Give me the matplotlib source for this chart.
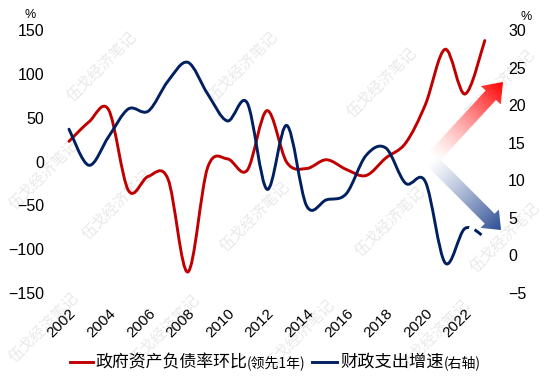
import numpy as np
import matplotlib
matplotlib.use("Agg")
import matplotlib.pyplot as plt
from matplotlib.path import Path
from matplotlib.patches import PathPatch, Polygon
from matplotlib.lines import Line2D

plt.rcParams['font.family'] = ['Liberation Sans', 'Noto Sans CJK SC', 'DejaVu Sans']

years = list(range(2002, 2024))
# 政府资产负债率环比 (领先1年), left axis
debt_ratio_qoq = [23, 45, 59, -33, -17, -20, -126, -7, 3, -10, 58,
                  -1, -8, 2, -9, -16, 4, 21, 65, 128, 77, 138]
# 财政支出增速, right axis (last segment dashed)
spending_growth = [16.8, 12.0, 15.8, 19.5, 19.2, 23.2, 25.7, 21.5, 17.9, 20.3, 8.8,
                   17.3, 6.6, 7.4, 8.2, 13.3, 14.3, 9.6, 9.8, -1.0, 3.6, 2.4]
xtick_years = list(range(2002, 2023, 2))
left_ticks = [-150, -100, -50, 0, 50, 100, 150]
right_ticks = [-5, 0, 5, 10, 15, 20, 25, 30]

RED = '#C00000'
NAVY = '#002060'
W, H = 550, 384
CJK = ['Noto Sans CJK SC', 'DejaVu Sans']


def smooth_path(xs, ys, i0, i1):
    # excel-like smoothed line: catmull-rom segments as cubic bezier
    pts = np.column_stack([xs, ys]).astype(float)
    n = len(pts)
    verts = [pts[i0]]
    codes = [Path.MOVETO]
    for i in range(i0, i1):
        p0 = pts[max(i - 1, 0)]
        p1 = pts[i]
        p2 = pts[i + 1]
        p3 = pts[min(i + 2, n - 1)]
        verts += [p1 + (p2 - p0) / 6, p2 - (p3 - p1) / 6, p2]
        codes += [Path.CURVE4] * 3
    return Path(verts, codes)


def arrow_poly(tail, tip, shaft_w, head_w, head_len):
    t = np.array(tail, float)
    h = np.array(tip, float)
    u = (h - t) / np.linalg.norm(h - t)
    nrm = np.array([-u[1], u[0]])
    b = h - u * head_len
    return [t + nrm * shaft_w / 2, b + nrm * shaft_w / 2, b + nrm * head_w / 2, h,
            b - nrm * head_w / 2, b - nrm * shaft_w / 2, t - nrm * shaft_w / 2]


def gradient_arrow(axo, tail, tip, color, gamma, shaft_w, head_w, head_len):
    X, Y = np.meshgrid(np.arange(W) + 0.5, np.arange(H) + 0.5)
    d = np.array(tip, float) - np.array(tail, float)
    s = ((X - tail[0]) * d[0] + (Y - tail[1]) * d[1]) / (d @ d)
    s = np.clip(s, 0, 1) ** gamma
    rgb = (1 - s)[..., None] * np.ones(3) + s[..., None] * np.array(color)
    img = np.dstack([rgb, np.ones_like(s)])
    patch = Polygon(arrow_poly(tail, tip, shaft_w, head_w, head_len), closed=True,
                    transform=axo.transData, facecolor='none', edgecolor='none')
    axo.add_patch(patch)
    im = axo.imshow(img, extent=(0, W, H, 0), interpolation='bilinear', aspect='auto')
    im.set_clip_path(patch)


fig = plt.figure(figsize=(W / 100, H / 100), dpi=100)

# watermark layer
bg = fig.add_axes([0, 0, 1, 1], zorder=-1)
bg.set_xlim(0, W)
bg.set_ylim(H, 0)
bg.axis('off')
marks = [(102, 67), (243, 67), (382, 83), (500, 85), (44, 175),
         (117, 205), (255, 217), (390, 222), (505, 238),
         (44, 328), (165, 330), (300, 335), (435, 335)]
for mx, my in marks:
    bg.text(mx, my, '伍戈经济笔记', rotation=45, ha='center', va='center',
            fontsize=11, color='#E9E9E9', family=CJK)

ax = fig.add_axes([55 / W, (H - 293) / H, 440 / W, 263 / H])
ax.set_facecolor('none')
ax.set_xlim(2002 - 14 / 19.8, 2002 + 426 / 19.8)
ax.set_ylim(-150, 150)
ax2 = ax.twinx()
ax2.set_ylim(-5, 30)

for a in (ax, ax2):
    for sp in a.spines.values():
        sp.set_visible(False)

ax.add_patch(PathPatch(smooth_path(years, debt_ratio_qoq, 0, len(years) - 1),
                       fill=False, edgecolor=RED, lw=2.1, capstyle='round'))
ax2.add_patch(PathPatch(smooth_path(years, spending_growth, 0, len(years) - 2),
                        fill=False, edgecolor=NAVY, lw=2.1, capstyle='round'))
ax2.add_patch(PathPatch(smooth_path(years, spending_growth, len(years) - 2, len(years) - 1),
                        fill=False, edgecolor=NAVY, lw=2.1, linestyle=(1.5, (3, 2))))

ax.set_xticks(xtick_years)
ax.set_xticklabels([str(y) for y in xtick_years], rotation=45, ha='right', va='top',
                   rotation_mode='anchor')
ax.tick_params(axis='x', length=0, pad=9.5, labelsize=11)
ax.set_yticks(left_ticks)
ax.tick_params(axis='y', length=0, pad=8, labelsize=11.5)
ax2.set_yticks(right_ticks)
ax2.tick_params(axis='y', length=0, pad=9.5, labelsize=11.5)

# overlay: arrows, unit labels, legend
over = fig.add_axes([0, 0, 1, 1], zorder=5)
over.set_facecolor('none')
gradient_arrow(over, (433, 158), (503, 82), (1.0, 0.0, 0.0), 1.3, 14, 27, 18)
gradient_arrow(over, (431, 160), (501, 230), (0.17, 0.30, 0.58), 1.2, 14, 26, 16)
over.set_xlim(0, W)
over.set_ylim(H, 0)
over.axis('off')

over.text(30.5, 14.5, '%', ha='center', va='center', fontsize=9)
over.text(526, 16.5, '%', ha='center', va='center', fontsize=9)

over.add_line(Line2D([70, 93], [362, 362], color=RED, lw=2.1))
over.text(95, 362, '政府资产负债率环比', ha='left', va='center', fontsize=12.2, family=CJK)
over.text(247, 363, '(领先1年)', ha='left', va='center', fontsize=10, family=CJK)
over.add_line(Line2D([312, 337], [362, 362], color=NAVY, lw=2.1))
over.text(340, 362, '财政支出增速', ha='left', va='center', fontsize=12.4, family=CJK)
over.text(444, 363, '(右轴)', ha='left', va='center', fontsize=10, family=CJK)

fig.savefig('out.png', dpi=100)
